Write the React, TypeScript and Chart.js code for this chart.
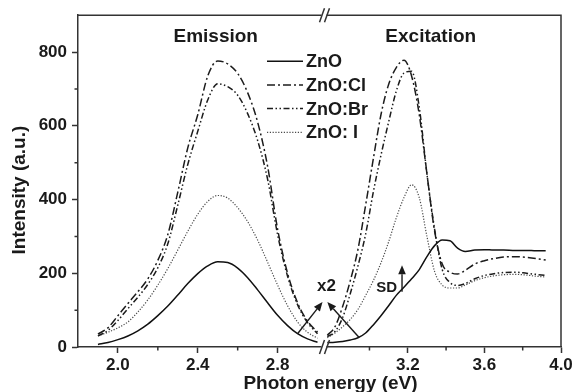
import React, { useEffect, useRef } from "react";
import { Chart, registerables } from "chart.js";

Chart.register(...registerables);

// ---------- data ----------
const seriesLabels = ["ZnO", "ZnO:Cl", "ZnO:Br", "ZnO: I"];

const emissionEnergy = [1.9, 1.95, 2.0, 2.05, 2.1, 2.15, 2.2, 2.25, 2.3, 2.35, 2.4, 2.45, 2.5, 2.55, 2.6, 2.65, 2.7, 2.75, 2.8, 2.85, 2.9, 2.95, 3.0];
const emZnO = [7, 12, 20, 30, 44, 62, 85, 111, 141, 172, 199, 220, 231, 229, 214, 188, 155, 120, 86, 58, 36, 22, 13];
const emCl = [35, 52, 85, 118, 150, 185, 235, 305, 420, 540, 630, 735, 776, 768, 742, 690, 610, 490, 320, 200, 120, 70, 40];
const emBr = [30, 45, 72, 104, 135, 170, 215, 280, 385, 495, 585, 670, 714, 706, 683, 633, 560, 455, 305, 192, 115, 66, 36];
const emI = [30, 40, 52, 68, 95, 128, 168, 213, 263, 314, 360, 395, 411, 404, 378, 340, 290, 230, 168, 112, 68, 40, 24];

const excitationEnergy = [2.78, 2.82, 2.86, 2.9, 2.94, 2.98, 3.02, 3.06, 3.1, 3.14, 3.18, 3.22, 3.26, 3.3, 3.34, 3.38, 3.42, 3.46, 3.5, 3.55, 3.6, 3.65, 3.7, 3.76, 3.82, 3.87, 3.92];
const exZnO = [12, 13, 15, 19, 25, 38, 60, 85, 112, 140, 162, 185, 210, 245, 275, 290, 288, 268, 259, 263, 264, 263, 263, 262, 262, 261, 261];
const exCl = [32, 55, 110, 180, 265, 385, 510, 630, 712, 758, 778, 735, 630, 470, 315, 225, 203, 198, 208, 225, 234, 240, 244, 245, 243, 240, 236];
const exBr = [28, 42, 80, 145, 220, 306, 420, 520, 610, 694, 743, 748, 650, 470, 320, 210, 175, 167, 172, 185, 194, 199, 202, 203, 200, 197, 194];
const exI = [25, 38, 55, 75, 102, 140, 180, 228, 285, 350, 405, 440, 405, 300, 205, 168, 160, 160, 168, 180, 188, 193, 196, 197, 195, 192, 190];

const xLeftTicks = [2.0, 2.4, 2.8];
const xLeftMinor = [2.2, 2.6];
const xRightTicks = [3.2, 3.6, 4.0];
const xRightMinor = [3.0, 3.4, 3.8];
const yTicks = [0, 200, 400, 600, 800];
const yMinor = [100, 300, 500, 700];

// annotation anchors (data coordinates)
const arrowLeft = { from: [2.9, 36], to: [3.025, 122] };
const arrowRight = { from: [2.946, 26], to: [2.78, 122] };
const sdArrow = { x: 3.17, from: 150, to: 222 };

// ---------- styles ----------
const FONT = '"Liberation Sans", Arial, Helvetica, sans-serif';
const AXIS = "#333333";
const TEXT = "#1a1a1a";
const seriesDash: number[][] = [[], [8, 3, 2, 3], [6, 2.5, 1.5, 2.5, 1.5, 2.5], [1.2, 1.6]];
const seriesColor = ["#111111", "#1c1c1c", "#1c1c1c", "#4a4a4a"];
const seriesWidth = [1.5, 1.5, 1.5, 1.2];

const emissionSeries = [emZnO, emCl, emBr, emI];
const excitationSeries = [exZnO, exCl, exBr, exI];

function drawArrow(ctx: CanvasRenderingContext2D, x0: number, y0: number, x1: number, y1: number) {
  const ang = Math.atan2(y1 - y0, x1 - x0);
  const head = 9;
  const half = 3.8;
  const bx = x1 - head * Math.cos(ang);
  const by = y1 - head * Math.sin(ang);
  ctx.beginPath();
  ctx.moveTo(x0, y0);
  ctx.lineTo(bx, by);
  ctx.stroke();
  ctx.beginPath();
  ctx.moveTo(x1, y1);
  ctx.lineTo(bx + half * Math.sin(ang), by - half * Math.cos(ang));
  ctx.lineTo(bx - half * Math.sin(ang), by + half * Math.cos(ang));
  ctx.closePath();
  ctx.fill();
}

const decorPlugin = {
  id: "decor",
  afterDraw(chart: any) {
    const ctx: CanvasRenderingContext2D = chart.ctx;
    const { left, right, top, bottom } = chart.chartArea;
    const sx1 = chart.scales.x1;
    const sx2 = chart.scales.x2;
    const sy = chart.scales.y;
    ctx.save();
    ctx.setLineDash([]);
    ctx.strokeStyle = AXIS;
    ctx.fillStyle = TEXT;
    ctx.lineWidth = 1.5;

    // frame top & right
    ctx.beginPath();
    ctx.moveTo(left, top);
    ctx.lineTo(right, top);
    ctx.lineTo(right, bottom);
    ctx.stroke();

    // minor ticks
    ctx.beginPath();
    xLeftMinor.forEach((v) => {
      const px = sx1.getPixelForValue(v);
      ctx.moveTo(px, bottom);
      ctx.lineTo(px, bottom + 3.5);
    });
    xRightMinor.forEach((v) => {
      const px = sx2.getPixelForValue(v);
      ctx.moveTo(px, bottom);
      ctx.lineTo(px, bottom + 3.5);
    });
    yMinor.forEach((v) => {
      const py = sy.getPixelForValue(v);
      ctx.moveTo(left, py);
      ctx.lineTo(left - 3.5, py);
    });
    ctx.stroke();

    // axis break marks
    const bx = sx1.right;
    [top, bottom].forEach((yy) => {
      ctx.fillStyle = "#ffffff";
      ctx.fillRect(bx - 2, yy - 2, 5, 4);
      ctx.beginPath();
      ctx.moveTo(bx - 4, yy + 7);
      ctx.lineTo(bx + 1, yy - 7);
      ctx.moveTo(bx + 1, yy + 7);
      ctx.lineTo(bx + 6, yy - 7);
      ctx.stroke();
    });

    // section labels
    ctx.fillStyle = TEXT;
    ctx.textAlign = "center";
    ctx.textBaseline = "middle";
    ctx.font = `bold 19px ${FONT}`;
    ctx.fillText("Emission", sx1.getPixelForValue(2.49), sy.getPixelForValue(842));
    ctx.fillText("Excitation", sx2.getPixelForValue(3.32), sy.getPixelForValue(842));

    // x2 arrows
    ctx.strokeStyle = TEXT;
    ctx.lineWidth = 1.4;
    drawArrow(ctx, sx1.getPixelForValue(arrowLeft.from[0]), sy.getPixelForValue(arrowLeft.from[1]),
      sx1.getPixelForValue(arrowLeft.to[0]), sy.getPixelForValue(arrowLeft.to[1]));
    drawArrow(ctx, sx2.getPixelForValue(arrowRight.from[0]), sy.getPixelForValue(arrowRight.from[1]),
      sx2.getPixelForValue(arrowRight.to[0]), sy.getPixelForValue(arrowRight.to[1]));
    ctx.font = `bold 17px ${FONT}`;
    ctx.fillText("x2", bx + 3, sy.getPixelForValue(164));

    // SD arrow
    const sdx = sx2.getPixelForValue(sdArrow.x);
    drawArrow(ctx, sdx, sy.getPixelForValue(sdArrow.from), sdx, sy.getPixelForValue(sdArrow.to));
    ctx.font = `bold 15px ${FONT}`;
    ctx.textAlign = "right";
    ctx.fillText("SD", sdx - 5, sy.getPixelForValue(160));

    // axis titles
    ctx.font = `bold 19px ${FONT}`;
    ctx.textAlign = "center";
    ctx.textBaseline = "alphabetic";
    ctx.fillText("Photon energy (eV)", (left + right) / 2 + 11, chart.height - 3);
    ctx.save();
    ctx.translate(25, (top + bottom) / 2 + 9);
    ctx.rotate(-Math.PI / 2);
    ctx.fillText("Intensity (a.u.)", 0, 0);
    ctx.restore();

    // legend
    const lx0 = left + 189;
    const lx1 = left + 225;
    const ly0 = top + 46;
    const step = 23.7;
    ctx.font = `bold 18px ${FONT}`;
    ctx.textAlign = "left";
    ctx.textBaseline = "middle";
    seriesLabels.forEach((lab, i) => {
      const yy = ly0 + i * step;
      ctx.strokeStyle = seriesColor[i];
      ctx.lineWidth = seriesWidth[i];
      ctx.setLineDash(seriesDash[i]);
      ctx.beginPath();
      ctx.moveTo(lx0, yy);
      ctx.lineTo(lx1, yy);
      ctx.stroke();
      ctx.setLineDash([]);
      ctx.fillStyle = TEXT;
      ctx.fillText(lab, lx1 + 3, yy + 1);
    });
    ctx.restore();
  },
};

function makeDatasets() {
  const ds: any[] = [];
  seriesLabels.forEach((lab, i) => {
    const style = {
      borderColor: seriesColor[i],
      borderWidth: seriesWidth[i],
      borderDash: seriesDash[i],
      pointRadius: 0,
      fill: false,
      cubicInterpolationMode: "monotone",
      yAxisID: "y",
    };
    ds.push({
      label: lab + " emission",
      data: emissionEnergy.map((x, k) => ({ x, y: emissionSeries[i][k] })),
      xAxisID: "x1",
      ...style,
    });
    ds.push({
      label: lab + " excitation",
      data: excitationEnergy.map((x, k) => ({ x, y: excitationSeries[i][k] })),
      xAxisID: "x2",
      ...style,
    });
  });
  return ds;
}

const tickFont = { family: FONT, size: 17, weight: "bold" as const };

function xScale(min: number, max: number, weight: number, ticks: number[]) {
  return {
    type: "linear" as const,
    position: "bottom" as const,
    stack: "xb",
    stackWeight: weight,
    min,
    max,
    afterBuildTicks: (s: any) => {
      s.ticks = ticks.map((v) => ({ value: v }));
    },
    afterFit: (s: any) => {
      s.height = 45;
    },
    ticks: {
      callback: (v: any) => Number(v).toFixed(1),
      font: tickFont,
      color: TEXT,
      padding: 2,
      maxRotation: 0,
      autoSkip: false,
    },
    grid: { drawOnChartArea: false, drawTicks: true, tickLength: 6, tickColor: AXIS, tickWidth: 1.5 },
    border: { display: true, color: AXIS, width: 1.5 },
  };
}

export default function App() {
  const ref = useRef<HTMLCanvasElement | null>(null);
  useEffect(() => {
    if (!ref.current) return;
    const chart = new Chart(ref.current, {
      type: "line",
      data: { datasets: makeDatasets() },
      options: {
        animation: false,
        responsive: true,
        maintainAspectRatio: false,
        layout: { padding: { top: 13, right: 16, left: 0, bottom: 0 } },
        plugins: { legend: { display: false }, tooltip: { enabled: false } },
        scales: {
          x1: xScale(1.8, 3.03, 246, xLeftTicks),
          x2: xScale(2.76, 4.0, 238, xRightTicks),
          y: {
            type: "linear",
            position: "left",
            min: 0,
            max: 900,
            afterBuildTicks: (s: any) => {
              s.ticks = yTicks.map((v) => ({ value: v }));
            },
            afterFit: (s: any) => {
              s.width = 78;
            },
            ticks: { font: tickFont, color: TEXT, padding: 5, callback: (v: any) => String(v) },
            grid: { drawOnChartArea: false, drawTicks: true, tickLength: 6, tickColor: AXIS, tickWidth: 1.5 },
            border: { display: true, color: AXIS, width: 1.5 },
          },
        },
      } as any,
      plugins: [decorPlugin],
    });
    return () => chart.destroy();
  }, []);
  return (
    <div style={{ position: "fixed", left: 0, top: 0, width: 577, height: 392, background: "#fff" }}>
      <canvas ref={ref} />
    </div>
  );
}
